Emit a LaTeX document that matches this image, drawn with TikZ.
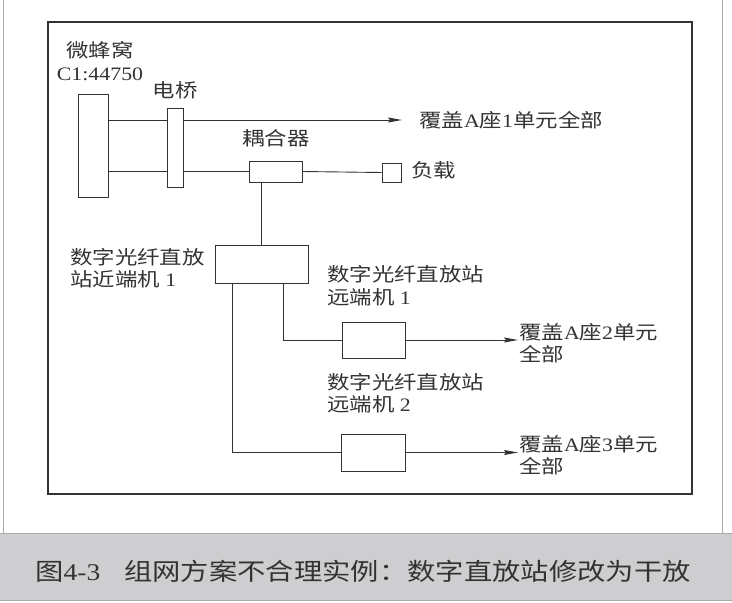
\documentclass[tikz,border=0pt]{standalone}
\usepackage{fontspec}
\setmainfont[FakeStretch=1.15]{Liberation Serif}
\newfontfamily\cjk[FakeStretch=1.18]{Noto Sans CJK SC}
\newcommand\zh[1]{{\cjk #1}}
\usetikzlibrary{arrows.meta,positioning,calc}
\definecolor{InkGray}{HTML}{333333}
\definecolor{BandGray}{RGB}{206,206,208}
\definecolor{EdgeGray}{RGB}{170,170,170}

\begin{document}
\begin{tikzpicture}[x=1pt,y=-1pt,
 box/.style={draw=InkGray,line width=0.9pt,fill=white,inner sep=0pt},
 lbl/.style={text=InkGray,font=\fontsize{19}{22.5}\selectfont,inner sep=1pt},
 link/.style={draw=InkGray,line width=0.9pt},
 arr/.style={link,-{Stealth[length=14pt,width=5pt,inset=2pt]}}]
\useasboundingbox (0,0) rectangle (732,603);
% page edges and caption band
\draw[EdgeGray,line width=0.8pt] (3,0) -- (3,533) (722,0) -- (722,533);
\fill[BandGray] (0,533) rectangle (732,600);
\draw[EdgeGray,line width=1pt] (0,533) -- (732,533) (0,600) -- (732,600);
\node[lbl,anchor=west,font=\fontsize{24}{28}\selectfont] (caption) at (34,571)
 {\zh{图}4-3\hspace{24pt}\zh{组网方案不合理实例：数字直放站修改为干放}};
% frame
\draw[InkGray,line width=1.2pt] (48,22) rectangle (692,494);

% boxes
\node[box,minimum width=30pt,minimum height=103pt] (micro) at (93,145.5) {};
\node[box,minimum width=16pt,minimum height=79pt] (bridge) at (175,147.5) {};
\node[box,minimum width=53pt,minimum height=21pt] (coup) at (275.5,171.5) {};
\node[box,minimum width=19pt,minimum height=19pt] (load) at (391.5,172.5) {};
\node[box,minimum width=93pt,minimum height=38pt] (near) at (261.5,264) {};
\node[box,minimum width=63pt,minimum height=36pt] (rem1) at (373.5,340) {};
\node[box,minimum width=64pt,minimum height=37pt] (rem2) at (373,452.5) {};

% labels
\node[lbl,align=center] (microlbl) at (100,61) {\zh{微蜂窝}\\C1:44750};
\node[lbl] (bridgelbl) at (175,90) {\zh{电桥}};
\node[lbl] (couplbl) at (276,138) {\zh{耦合器}};
\node[lbl,anchor=west] (loadlbl) at (410,170) {\zh{负载}};
\node[lbl,anchor=west] (cover1) at (418,120) {\zh{覆盖}A\zh{座}1\zh{单元全部}};
\node[lbl,anchor=west,align=left] (nearlbl) at (69,268) {\zh{数字光纤直放}\\\zh{站近端机} 1};
\node[lbl,anchor=west,align=left] (rem1lbl) at (326,285.5) {\zh{数字光纤直放站}\\\zh{远端机} 1};
\node[lbl,anchor=west,align=left] (rem2lbl) at (326,393) {\zh{数字光纤直放站}\\\zh{远端机} 2};
\node[lbl,anchor=west,align=left] (cover2) at (518,343) {\zh{覆盖}A\zh{座}2\zh{单元}\\\zh{全部}};
\node[lbl,anchor=west,align=left] (cover3) at (518,455) {\zh{覆盖}A\zh{座}3\zh{单元}\\\zh{全部}};

% connectors
\draw[link] (micro.east |- cover1) -- (bridge.west |- cover1);
\draw[arr,shorten >=16pt] (bridge.east |- cover1) -- (cover1.west);
\draw[link] (micro.east |- coup) -- (bridge.west |- coup);
\draw[link] (bridge.east |- coup) -- (coup.west);
\draw[link] (coup.east) -- (load.west);
\draw[link] (near.north |- coup.south) -- (near.north);
\draw[link] ([xshift=21.5pt]near.south) |- (rem1.west);
\draw[link] ([xshift=-29.5pt]near.south) |- (rem2.west);
\draw[arr] (rem1.east) -- (rem1.east -| cover2.west);
\draw[arr] (rem2.east) -- (rem2.east -| cover3.west);
\end{tikzpicture}
\end{document}
